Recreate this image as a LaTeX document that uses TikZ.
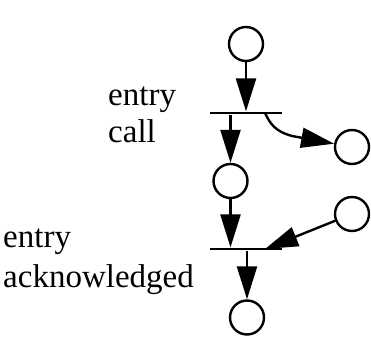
\documentclass[tikz,border=0pt]{standalone}
\usepackage{fontspec}
\setmainfont{Liberation Serif}
\usetikzlibrary{arrows.meta}
\begin{document}
\begin{tikzpicture}[x=1pt,y=1pt,
  place/.style={circle,draw,line width=2.4pt,minimum size=34pt,inner sep=0pt},
  bar/.style={rectangle,fill=black,minimum width=72pt,minimum height=2.8pt,inner sep=0pt},
  flow/.style={line width=2.4pt,-{Triangle[length=33pt,width=20pt]}},
  lbl/.style={align=left,inner sep=0pt}]
\useasboundingbox (0,0) rectangle (371,339);

% places
\node[place] (p1) at (246,295) {};
\node[place] (p2) at (230.5,158) {};
\node[place] (p3) at (352,192) {};
\node[place] (p4) at (352,125) {};
\node[place] (p5) at (247,21.5) {};

% transitions
\node[bar] (t1) at (246,226) {};
\node[bar] (t2) at (246,90) {};
\coordinate (t1out) at (265,226);
\coordinate (t2in) at (265,90);

% labels (anchored at the baseline of their last line)
\node[lbl,font=\fontsize{33}{37}\selectfont,anchor=base west] (l1) at (108,196) {entry\\call};
\node[lbl,font=\fontsize{33}{40}\selectfont,anchor=base west] (l2) at (3,51) {entry\\acknowledged};

% arcs
\draw[flow] (p1) -- (p1 |- t1.north);
\draw[flow] (t1.south -| p2) -- (p2);
\draw[flow] (t1out) .. controls (270,216) and (274,208) .. (292,203) -- (p3);
\draw[flow] (p2) -- (p2 |- t2.north);
\draw[flow] (p4) -- (t2in);
\draw[flow] (t2.south -| p5) -- (p5);
\end{tikzpicture}
\end{document}
